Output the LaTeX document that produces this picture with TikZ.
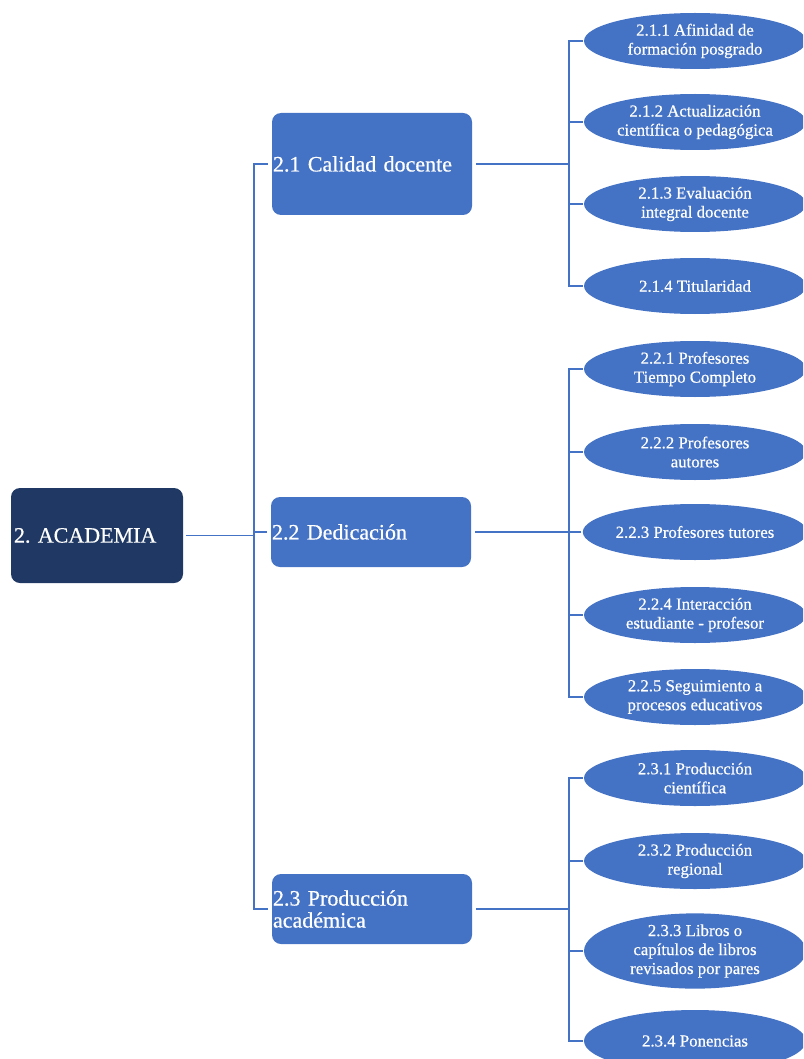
\documentclass[tikz,border=0pt]{standalone}
\usepackage{fontspec}
\setmainfont{Liberation Serif}
\newfontfamily\heavyserif[FakeBold=0.6]{Liberation Serif}
\usetikzlibrary{shapes.geometric}
\definecolor{navy}{HTML}{1F3864}
\definecolor{midblue}{HTML}{4472C4}
\frenchspacing
\begin{document}
\begin{tikzpicture}[x=1pt,y=-1pt,
  rootbox/.style={rectangle, rounded corners=9pt, fill=navy, text=white,
    font=\heavyserif\fontsize{22}{24}\selectfont, align=left, text width=166pt,
    inner xsep=3pt, inner ysep=0pt, minimum height=95pt, outer sep=3pt},
  subbox/.style={rectangle, rounded corners=9pt, fill=midblue, text=white,
    font=\heavyserif\fontsize{22}{22}\selectfont, align=left, text width=198pt,
    inner xsep=1pt, inner ysep=0pt, minimum height=70pt, outer sep=4pt},
  leaf/.style={ellipse, fill=midblue, text=white,
    font=\heavyserif\fontsize{16.8}{19}\selectfont, align=center, inner sep=0pt,
    minimum width=222pt, minimum height=56pt, outer sep=1.5pt},
  conn/.style={draw=midblue, line width=1.3pt}]
\useasboundingbox (0,0) rectangle (803,1059);
\clip (0,0) rectangle (803,1059);

\coordinate (tA) at (254,0);
\coordinate (tB) at (569,0);

\node[rootbox] (root) at (97,535.5) {2. ACADEMIA};
\node[subbox, minimum height=102pt] (b21) at (372,164) {2.1 Calidad docente};
\node[subbox] (b22) at (371,532) {2.2 Dedicación};
\node[subbox] (b23) at (372,909) {2.3 Producción\\académica};

\node[leaf] (e211) at (695,41) {2.1.1 Afinidad de\\formación posgrado};
\node[leaf] (e212) at (695,122) {2.1.2 Actualización\\científica o pedagógica};
\node[leaf] (e213) at (695,204) {2.1.3 Evaluación\\integral docente};
\node[leaf] (e214) at (695,286) {2.1.4 Titularidad};

\node[leaf] (e221) at (695,369) {2.2.1 Profesores\\Tiempo Completo};
\node[leaf] (e222) at (695,452) {2.2.2 Profesores\\autores};
\node[leaf] (e223) at (695,532) {2.2.3 Profesores tutores};
\node[leaf] (e224) at (695,615) {2.2.4 Interacción\\estudiante - profesor};
\node[leaf] (e225) at (695,697) {2.2.5 Seguimiento a\\procesos educativos};

\node[leaf] (e231) at (695,778) {2.3.1 Producción\\científica};
\node[leaf] (e232) at (695,861) {2.3.2 Producción\\regional};
\node[leaf, minimum height=72pt] (e233) at (695,951) {2.3.3 Libros o\\capítulos de libros\\revisados por pares};
\node[leaf, minimum height=62pt] (e234) at (695,1041) {2.3.4 Ponencias};

% level 1 connectors
\draw[conn] (root.east) -- (root.east -| tA);
\draw[conn] (b21.west) -- (b21.west -| tA) |- (b23.west);
\draw[conn] (b22.west) -- (b22.west -| tA);

% group 2.1
\draw[conn] (b21.east) -- (b21.east -| tB);
\draw[conn] (e211.west) -- (e211.west -| tB) |- (e214.west);
\draw[conn] (e212.west) -- (e212.west -| tB);
\draw[conn] (e213.west) -- (e213.west -| tB);

% group 2.2
\draw[conn] (b22.east) -- (b22.east -| tB);
\draw[conn] (e221.west) -- (e221.west -| tB) |- (e225.west);
\draw[conn] (e222.west) -- (e222.west -| tB);
\draw[conn] (e223.west) -- (e223.west -| tB);
\draw[conn] (e224.west) -- (e224.west -| tB);

% group 2.3
\draw[conn] (b23.east) -- (b23.east -| tB);
\draw[conn] (e231.west) -- (e231.west -| tB) |- (e234.west);
\draw[conn] (e232.west) -- (e232.west -| tB);
\draw[conn] (e233.west) -- (e233.west -| tB);
\end{tikzpicture}
\end{document}
